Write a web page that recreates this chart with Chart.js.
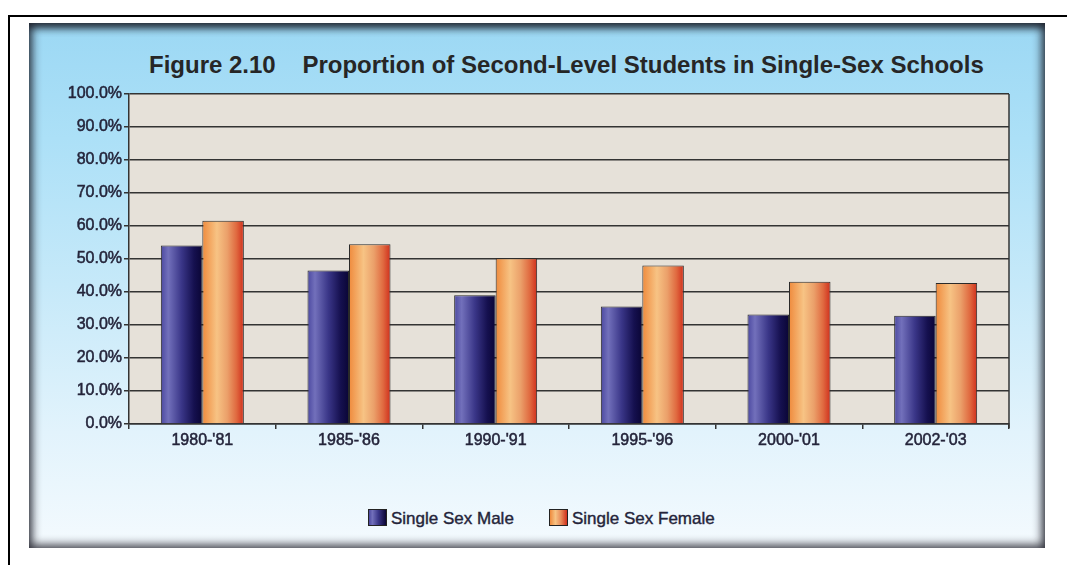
<!DOCTYPE html>
<html>
<head>
<meta charset="utf-8">
<script src="https://cdn.jsdelivr.net/npm/chart.js@4"></script>
<style>
    body {
        margin: 0;
        width: 1067px;
        height: 565px;
        position: relative;
        overflow: hidden;
        background: #fff;
        font-family: "Liberation Sans", Arial, sans-serif;
    }
    /* líneas del documento */
    .page-top { position: absolute; left: 8px; top: 15px; width: 1059px; height: 2px; background: #000; }
    .page-left { position: absolute; left: 8px; top: 15px; width: 2px; height: 550px; background: #000; }

    .panel {
        position: absolute;
        left: 29px; top: 23px;
        width: 1016px; height: 525px;
        background: linear-gradient(180deg, #9cd8f4 0%, #ace0f7 22%, #c6e9f9 50%, #e2f3fc 78%, #f4fafe 100%);
        box-shadow: inset 0 0 10px 3px rgba(25, 25, 35, 0.85), inset 0 7px 8px -3px rgba(20, 30, 40, 0.7);
    }
    .title {
        position: absolute;
        left: 149px; top: 53px;
        font: bold 24px/1 "Liberation Sans", Arial, sans-serif;
        color: #262626;
        white-space: pre;
    }
    .legend-box {
        position: absolute;
        top: 509px;
        width: 17px; height: 15px;
        border: 1px solid #222;
    }
    .legend-text {
        position: absolute;
        top: 510px;
        font: 17px/1 "Liberation Sans", Arial, sans-serif;
        color: #24243a;
        -webkit-text-stroke: 0.4px #24243a;
        white-space: nowrap;
    }
    canvas { position: absolute; left: 0; top: 0; }
</style>
</head>
<body>
    <div class="page-top"></div>
    <div class="page-left"></div>
    <div class="panel"></div>
    <div class="title">Figure 2.10    Proportion of Second-Level Students in Single-Sex Schools</div>

    <div class="legend-box" style="left:368px; background:linear-gradient(90deg,#4b48a0,#7270bb 20%,#3a3688 55%,#0a0535);"></div>
    <div class="legend-text" style="left:391px;">Single Sex Male</div>
    <div class="legend-box" style="left:549px; background:linear-gradient(90deg,#ef8a3c,#f7c384 32%,#e88a58 65%,#cf2e1c);"></div>
    <div class="legend-text" style="left:572px;">Single Sex Female</div>

    <canvas id="grafico" width="1067" height="565"></canvas>

<script>
// Datos
const categorias = ["1980-'81", "1985-'86", "1990-'91", "1995-'96", "2000-'01", "2002-'03"];
const masculino = [54.1, 46.5, 39.0, 35.6, 33.2, 32.8];
const femenino = [61.6, 54.5, 50.2, 48.0, 43.1, 42.7];
const etiquetasY = ['0.0%', '10.0%', '20.0%', '30.0%', '40.0%', '50.0%', '60.0%', '70.0%', '80.0%', '90.0%', '100.0%'];

const fuente = '"Liberation Sans", Arial, sans-serif';

// Colores de degradado para cada serie
const degradados = [
    [[0, '#4b48a0'], [0.18, '#7270bb'], [0.5, '#3a3688'], [0.8, '#15104f'], [1, '#0a0535']],
    [[0, '#ef8a3c'], [0.35, '#f7c384'], [0.6, '#eba06a'], [0.82, '#e06a40'], [1, '#cf2e1c']]
];

// Fondo del área de trazado y borde derecho
const fondoPlugin = {
    id: 'fondo',
    beforeDraw(chart) {
        const { ctx, chartArea: a } = chart;
        ctx.save();
        ctx.fillStyle = '#e6e1d9';
        ctx.fillRect(a.left, a.top, a.right - a.left, a.bottom - a.top);
        ctx.strokeStyle = '#333';
        ctx.lineWidth = 1.5;
        ctx.beginPath();
        ctx.moveTo(a.right, a.top);
        ctx.lineTo(a.right, a.bottom + 4);
        ctx.stroke();
        ctx.restore();
    },
    beforeDatasetsDraw(chart) {
        const ctx = chart.ctx;
        chart.data.datasets.forEach((ds, i) => {
            const meta = chart.getDatasetMeta(i);
            meta.data.forEach(bar => {
                const g = ctx.createLinearGradient(bar.x - bar.width / 2, 0, bar.x + bar.width / 2, 0);
                degradados[i].forEach(s => g.addColorStop(s[0], s[1]));
                bar.options = Object.assign({}, bar.options, { backgroundColor: g });
            });
        });
    }
};

new Chart(document.getElementById('grafico'), {
    type: 'bar',
    data: {
        labels: categorias,
        datasets: [
            {
                label: 'Single Sex Male',
                data: masculino,
                backgroundColor: '#3a3688',
                borderColor: '#2a2a2a',
                borderWidth: 1,
                categoryPercentage: 0.566,
                barPercentage: 1.0
            },
            {
                label: 'Single Sex Female',
                data: femenino,
                backgroundColor: '#ec9050',
                borderColor: '#2a2a2a',
                borderWidth: 1,
                categoryPercentage: 0.566,
                barPercentage: 1.0
            }
        ]
    },
    options: {
        responsive: false,
        animation: false,
        layout: { padding: { left: 60, right: 58, top: 94, bottom: 111 } },
        plugins: {
            legend: { display: false },
            title: { display: false },
            tooltip: { enabled: false }
        },
        scales: {
            x: {
                grid: { offset: true, drawOnChartArea: false, tickLength: 5, color: '#333', lineWidth: 1.5 },
                border: { color: '#333', width: 1.5 },
                ticks: {
                    font: { family: fuente, size: 16 },
                    color: '#24243a',
                    textStrokeColor: '#24243a',
                    textStrokeWidth: 0.5,
                    padding: 1.5,
                    maxRotation: 0
                },
                afterFit: s => { s.height = 30; }
            },
            y: {
                min: 0,
                max: 100,
                grid: { color: '#333', lineWidth: 1.5, tickLength: 5 },
                border: { color: '#333', width: 1.5 },
                ticks: {
                    stepSize: 10,
                    font: { family: fuente, size: 16 },
                    color: '#24243a',
                    textStrokeColor: '#24243a',
                    textStrokeWidth: 0.5,
                    padding: 2,
                    callback: (v, i) => etiquetasY[i]
                },
                afterFit: s => { s.width = 69; }
            }
        }
    },
    plugins: [fondoPlugin]
});
</script>
</body>
</html>
